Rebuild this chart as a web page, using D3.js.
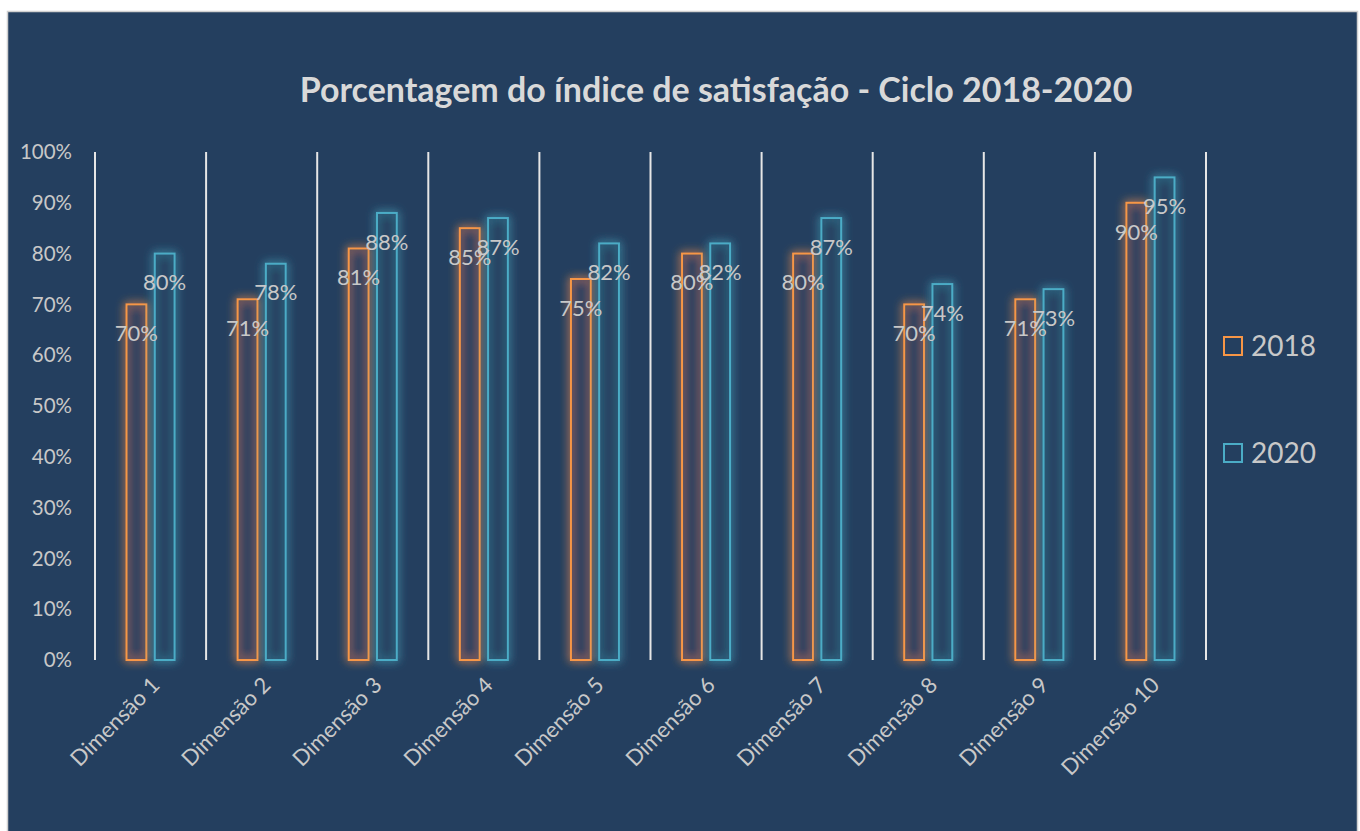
<!DOCTYPE html>
<html><head><meta charset="utf-8">
<script src="https://cdn.jsdelivr.net/npm/d3@7"></script>
<style>html,body{margin:0;padding:0;background:#fff;}svg{display:block;}</style>
</head><body>
<svg id="chart" width="1360" height="831"></svg>
<script>
const categories = ["Dimensão 1","Dimensão 2","Dimensão 3","Dimensão 4","Dimensão 5","Dimensão 6","Dimensão 7","Dimensão 8","Dimensão 9","Dimensão 10"];
const series = ["2018","2020"];
const values2018 = [70,71,81,85,75,80,80,70,71,90];
const values2020 = [80,78,88,87,82,82,87,74,73,95];
const yTicks = [0,10,20,30,40,50,60,70,80,90,100];
const colors = ["#F79646","#4BACC6"];
const title = "Porcentagem do índice de satisfação - Ciclo 2018-2020";

const svg = d3.select("#chart");
const font = "Lato, 'Open Sans', sans-serif";
svg.append("rect").attr("x",7.5).attr("y",11.5).attr("width",1350).attr("height",830)
  .attr("fill","#243F5F").attr("stroke","#D0D0D0").attr("stroke-width",1.5);

const defs = svg.append("defs");
colors.forEach((c,i)=>{
  const f = defs.append("filter").attr("id","glow"+i).attr("x","-80%").attr("y","-20%").attr("width","260%").attr("height","140%");
  f.append("feGaussianBlur").attr("in","SourceGraphic").attr("stdDeviation",5).attr("result","b");
  f.append("feComponentTransfer").attr("in","b").attr("result","b2")
    .append("feFuncA").attr("type","linear").attr("slope",1.5);
  const m = f.append("feMerge");
  m.append("feMergeNode").attr("in","b2");
  m.append("feMergeNode").attr("in","SourceGraphic");
});

const x0 = d3.scaleBand().domain(categories).range([95,1206]).paddingInner(0).paddingOuter(0);
const x1 = d3.scaleBand().domain(series).range([0,48]).paddingInner(0.3);
const y = d3.scaleLinear().domain([0,100]).range([660,152]);

// vertical separators
const edges = categories.map(c=>x0(c)).concat([x0.range()[1]]);
svg.append("g").selectAll("line").data(edges).join("line")
  .attr("x1",d=>d).attr("x2",d=>d).attr("y1",y(100)).attr("y2",y(0))
  .attr("stroke","#E6E6E6").attr("stroke-width",2);

// y axis labels
svg.append("g").selectAll("text").data(yTicks).join("text")
  .attr("x",72).attr("y",d=>y(d)).attr("dy","0.35em").attr("text-anchor","end")
  .attr("font-family",font).attr("font-size",20.5).attr("fill","#C8C8C8")
  .text(d=>d+"%");

const data = [values2018, values2020];
const gBars = svg.append("g");
series.forEach((s,si)=>{
  const g = gBars.append("g").attr("filter","url(#glow"+si+")");
  g.selectAll("rect").data(data[si]).join("rect")
    .attr("x",(d,i)=>x0(categories[i]) + x0.bandwidth()/2 - 24 + x1(s))
    .attr("y",d=>y(d))
    .attr("width",x1.bandwidth())
    .attr("height",d=>y(0)-y(d))
    .attr("fill","#243F5F").attr("fill-opacity",0.5)
    .attr("stroke",colors[si]).attr("stroke-width",2);
});
series.forEach((s,si)=>{
  svg.append("g").selectAll("text").data(data[si]).join("text")
    .attr("x",(d,i)=>x0(categories[i]) + x0.bandwidth()/2 - 24 + x1(s) + x1.bandwidth()/2)
    .attr("y",d=>y(d)+29).attr("dy","0.35em").attr("text-anchor","middle")
    .attr("font-family",font).attr("font-size",22).attr("fill","#C8C8C8")
    .text(d=>d+"%");
});

// x labels
svg.append("g").selectAll("text").data(categories).join("text")
  .attr("transform",c=>`translate(${x0(c)+x0.bandwidth()/2+5},${y(0)+21}) rotate(-45)`)
  .attr("text-anchor","end").attr("dy","0.35em")
  .attr("font-family",font).attr("font-size",22).attr("fill","#C8C8C8")
  .text(c=>c);

// title
const t = svg.append("text").attr("x",716).attr("y",90).attr("dy","0.35em").attr("text-anchor","middle")
  .attr("font-family",font).attr("font-weight","bold").attr("font-size",30).attr("fill","#D9D9D9").text(title);
const w = t.node().getComputedTextLength();
t.attr("font-size",30*833/w);

// legend
const lg = svg.append("g");
series.forEach((s,si)=>{
  const ly = [346,453][si];
  lg.append("rect").attr("x",1224).attr("y",ly-9).attr("width",18).attr("height",18)
    .attr("fill","none").attr("stroke",colors[si]).attr("stroke-width",2);
  lg.append("text").attr("x",1251).attr("y",ly).attr("dy","0.35em")
    .attr("font-family",font).attr("font-size",28).attr("fill","#C8C8C8").text(s);
});
</script>
</body></html>
